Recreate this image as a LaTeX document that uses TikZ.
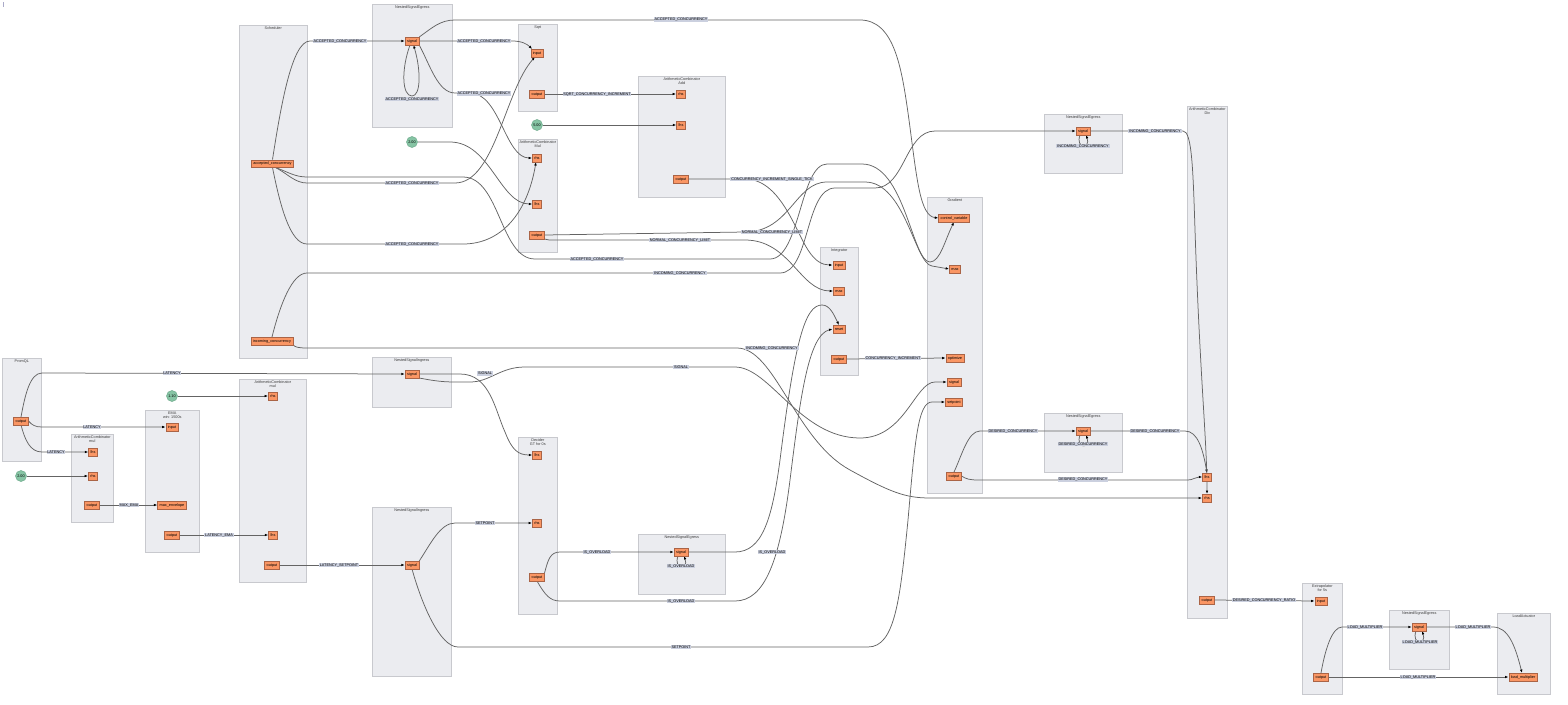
\documentclass[tikz,border=0pt]{standalone}
\usepackage{fontspec}
\setmainfont{Liberation Sans}
\usetikzlibrary{arrows.meta}
\pgfdeclarelayer{bg}
\pgfdeclarelayer{wirelayer}
\pgfsetlayers{bg,wirelayer,main}

\definecolor{clfill}{RGB}{235,236,240}
\definecolor{clborder}{RGB}{200,201,206}
\definecolor{portfill}{RGB}{250,150,100}
\definecolor{portborder}{RGB}{170,100,70}
\definecolor{constfill}{RGB}{134,196,164}
\definecolor{constborder}{RGB}{110,170,140}
\definecolor{lblfill}{RGB}{203,208,223}
\definecolor{wirecol}{RGB}{100,100,100}
\definecolor{titlecol}{RGB}{60,60,60}
\definecolor{tickcol}{RGB}{170,170,200}

\newcommand\tinyfont{\fontsize{3.8}{4.4}\selectfont}

\tikzset{
  cluster/.style={draw=clborder, fill=clfill, line width=0.6pt, anchor=north west, inner sep=0pt},
  ctitle/.style={anchor=north, font=\tinyfont, text=titlecol, align=center, inner sep=1.5pt},
  port/.style={draw=portborder, fill=portfill, line width=0.5pt, font=\tinyfont,
    inner xsep=2pt, inner ysep=0pt, minimum height=7.5pt, text height=2.8pt, text depth=0.7pt},
  const/.style={circle, draw=constborder, fill=constfill, line width=0.5pt,
    minimum size=11pt, inner sep=0pt, font=\tinyfont},
  lbl/.style={fill=lblfill, font=\tinyfont, inner xsep=0.8pt, inner ysep=0.6pt,
    text height=2.8pt, text depth=0.7pt},
  wire/.style={draw=wirecol, line width=0.75pt, -{Latex[length=3.5pt,width=2.6pt,color=black]}},
}

\begin{document}
\begin{tikzpicture}[x=1pt,y=-1pt]
\useasboundingbox (0,0) rectangle (1568,704);

\draw[tickcol, line width=0.4pt] (3,2) -- (3,7);

% ---------- component groups ----------
\begin{pgfonlayer}{bg}
\node[cluster, minimum width=68pt, minimum height=333pt, label={[ctitle]north:Scheduler}] (cSched) at (239,25) {};
\node[cluster, minimum width=80pt, minimum height=123pt, label={[ctitle]north:NestedSignalEgress}] (cNse1) at (372,4) {};
\node[cluster, minimum width=39pt, minimum height=87pt, label={[ctitle]north:Sqrt}] (cSqrt) at (518,24) {};
\node[cluster, minimum width=87pt, minimum height=121pt, label={[ctitle]north:{ArithmeticCombinator\\Add}}] (cAdd) at (638,76) {};
\node[cluster, minimum width=39pt, minimum height=113pt, label={[ctitle]north:{ArithmeticCombinator\\Mul}}] (cMul) at (518,139) {};
\node[cluster, minimum width=55pt, minimum height=296pt, label={[ctitle]north:Gradient}] (cGrad) at (927,197) {};
\node[cluster, minimum width=38pt, minimum height=128pt, label={[ctitle]north:Integrator}] (cInt) at (820,247) {};
\node[cluster, minimum width=78pt, minimum height=59pt, label={[ctitle]north:NestedSignalEgress}] (cNseInc) at (1044,114) {};
\node[cluster, minimum width=40pt, minimum height=512pt, label={[ctitle]north:{ArithmeticCombinator\\Div}}] (cDiv) at (1187,106) {};
\node[cluster, minimum width=78pt, minimum height=59pt, label={[ctitle]north:NestedSignalEgress}] (cNseDes) at (1044,413) {};
\node[cluster, minimum width=39pt, minimum height=103pt, label={[ctitle]north:PromQL}] (cProm) at (2,358) {};
\node[cluster, minimum width=42pt, minimum height=88pt, label={[ctitle]north:{ArithmeticCombinator\\mul}}] (cMulA) at (71,434) {};
\node[cluster, minimum width=54pt, minimum height=142pt, label={[ctitle]north:{EMA\\win: 1500s}}] (cEma) at (145,410) {};
\node[cluster, minimum width=67pt, minimum height=203pt, label={[ctitle]north:{ArithmeticCombinator\\mul}}] (cMulB) at (239,379) {};
\node[cluster, minimum width=79pt, minimum height=50pt, label={[ctitle]north:NestedSignalIngress}] (cNsi1) at (372,357) {};
\node[cluster, minimum width=79pt, minimum height=169pt, label={[ctitle]north:NestedSignalIngress}] (cNsi2) at (372,507) {};
\node[cluster, minimum width=39pt, minimum height=177pt, label={[ctitle]north:{Decider\\GT for 0s}}] (cDec) at (518,437) {};
\node[cluster, minimum width=87pt, minimum height=60pt, label={[ctitle]north:NestedSignalEgress}] (cNseIs) at (638,534) {};
\node[cluster, minimum width=40pt, minimum height=111pt, label={[ctitle]north:{Extrapolator\\for 5s}}] (cExt) at (1302,583) {};
\node[cluster, minimum width=60pt, minimum height=59pt, label={[ctitle]north:NestedSignalEgress}] (cNseLm) at (1389,610) {};
\node[cluster, minimum width=53pt, minimum height=81pt, label={[ctitle]north:LoadActuator}] (cLa) at (1497,613) {};
\end{pgfonlayer}

% ---------- ports and constants ----------
\node[port] (schAcc) at (272.5,163.5) {accepted\_concurrency};
\node[port] (schInc) at (272,341) {incoming\_concurrency};
\node[port] (nse1) at (412,41) {signal};
\node[port] (sqrtIn) at (537,53) {input};
\node[port] (sqrtOut) at (537,94) {output};
\node[port] (addRhs) at (681,94) {rhs};
\node[port] (addLhs) at (681,125) {lhs};
\node[port] (addOut) at (681,179) {output};
\node[const] (k500) at (537,125) {5.00};
\node[const] (k200a) at (412,142) {2.00};
\node[port] (mulRhs) at (537,158) {rhs};
\node[port] (mulLhs) at (537,204) {lhs};
\node[port] (mulOut) at (537,235) {output};
\node[port] (gCv) at (954,218) {control\_variable};
\node[port] (gMax) at (955,269) {max};
\node[port] (gOpt) at (955,358) {optimize};
\node[port] (gSig) at (954,382) {signal};
\node[port] (gSet) at (954,402) {setpoint};
\node[port] (gOut) at (954,476) {output};
\node[port] (iIn) at (839,265) {input};
\node[port] (iMax) at (839,291) {max};
\node[port] (iReset) at (839,329) {reset};
\node[port] (iOut) at (839,359) {output};
\node[port] (nseInc) at (1083,131) {signal};
\node[port] (dLhs) at (1207,477) {lhs};
\node[port] (dRhs) at (1207,498) {rhs};
\node[port] (dOut) at (1207,600) {output};
\node[port] (nseDes) at (1083,431) {signal};
\node[port] (promOut) at (21,421) {output};
\node[port] (maLhs) at (93,452) {lhs};
\node[port] (maRhs) at (93,476) {rhs};
\node[port] (maOut) at (92,505) {output};
\node[const] (k200b) at (21,476) {2.00};
\node[const] (k110) at (172,396) {1.10};
\node[port] (emaIn) at (172,427) {input};
\node[port] (emaMax) at (172,505) {max\_envelope};
\node[port] (emaOut) at (172,535) {output};
\node[port] (mbRhs) at (273,396) {rhs};
\node[port] (mbLhs) at (273,535) {lhs};
\node[port] (mbOut) at (272,565) {output};
\node[port] (nsi1) at (412,374) {signal};
\node[port] (nsi2) at (412,565) {signal};
\node[port] (decLhs) at (537,455) {lhs};
\node[port] (decRhs) at (537,523) {rhs};
\node[port] (decOut) at (537,577) {output};
\node[port] (nseIs) at (681,552) {signal};
\node[port] (extIn) at (1321,601) {input};
\node[port] (extOut) at (1321,677) {output};
\node[port] (nseLm) at (1419,627) {signal};
\node[port] (laLm) at (1523,677) {load\_multiplier};

% ---------- connectors ----------
\begin{pgfonlayer}{wirelayer}
\draw[wire] (schAcc.north) .. controls (281,105) and (292,41) .. (310,41) -- (nse1.west);
\draw[wire] (nse1.east) -- (512,41) .. controls (522,41) and (527,44) .. ([xshift=1.5pt]sqrtIn.north west);
\draw[wire] (nse1.north east) .. controls (432,28) and (440,20) .. (455,20) -- (860,20)
  .. controls (895,20) and (902,70) .. (909,120) .. controls (917,180) and (920,216) .. (gCv.west);
\draw[wire] (nse1.south east) .. controls (430,65) and (438,93) .. (455,93) -- (470,93)
  .. controls (500,93) and (505,158) .. (mulRhs.west);
\draw[wire] ([xshift=-2pt]nse1.south) .. controls (401,70) and (402,96) .. (412,96)
  .. controls (421,96) and (421,70) .. ([xshift=1.5pt]nse1.south);
\draw[wire] ([xshift=3pt]schAcc.south) .. controls (288,174) and (295,183) .. (307,183) -- (455,183)
  .. controls (495,183) and (505,90) .. ([xshift=-2pt]sqrtIn.south);
\draw[wire] ([xshift=3pt]schAcc.south) .. controls (288,172) and (295,177) .. (307,177) -- (463,177)
  .. controls (500,177) and (500,259) .. (535,259) -- (770,259)
  .. controls (800,259) and (800,164) .. (827,164) -- (862,164)
  .. controls (905,164) and (912,262) .. (930,262) .. controls (940,262) and (945,240) .. (gCv.south);
\draw[wire] (schAcc.south) .. controls (280,205) and (290,244) .. (307,244) -- (463,244)
  .. controls (500,244) and (527,215) .. ([xshift=-1pt]mulRhs.south);
\draw[wire] (k200a.east) -- (450,142) .. controls (490,142) and (500,204) .. (mulLhs.west);
\draw[wire] (sqrtOut.east) -- (addRhs.west);
\draw[wire] (k500.east) -- (addLhs.west);
\draw[wire] (addOut.east) -- (745,179) .. controls (780,179) and (795,230) .. (808,250)
  .. controls (815,261) and (822,265) .. (iIn.west);
\draw[wire] (mulOut.south east) .. controls (548,240) .. (556,240) -- (745,240)
  .. controls (790,240) and (800,291) .. (iMax.west);
\draw[wire] (mulOut.east) -- (745,232) .. controls (790,232) and (795,182) .. (827,182) -- (865,182)
  .. controls (905,182) and (915,264) .. (932,266) -- (gMax.west);
\draw[wire] (schInc.north) .. controls (280,305) and (292,273) .. (307,273) -- (780,273)
  .. controls (810,273) and (805,188) .. (835,188) -- (875,188)
  .. controls (905,188) and (905,131) .. (935,131) -- (nseInc.west);
\draw[wire] (schInc.south east) .. controls (295,347) and (298,348) .. (307,348) -- (737,348)
  .. controls (775,348) and (795,440) .. (850,470) .. controls (890,492) and (905,498) .. (930,498) -- (dRhs.west);
\draw[wire] (promOut.north) .. controls (25,395) and (30,373) .. (42,373) -- (nsi1.west);
\draw[wire] (promOut.east) .. controls (32,425) and (35,427) .. (42,427) -- (emaIn.west);
\draw[wire] (promOut.south) .. controls (25,440) and (30,452) .. (42,452) -- (maLhs.west);
\draw[wire] (k200b.east) -- (maRhs.west);
\draw[wire] (maOut.east) -- (emaMax.west);
\draw[wire] (emaOut.east) -- (mbLhs.west);
\draw[wire] (k110.east) -- (mbRhs.west);
\draw[wire] (mbOut.east) -- (nsi2.west);
\draw[wire] (nsi2.north east) .. controls (430,545) and (440,523) .. (455,523) -- (decRhs.west);
\draw[wire] (nsi2.south) .. controls (422,605) and (440,647) .. (458,647) -- (868,647)
  .. controls (895,647) and (900,600) .. (908,520) .. controls (915,440) and (918,402) .. (932,402) -- (gSet.west);
\draw[wire] (nsi1.east) -- (460,374) .. controls (490,374) and (495,410) .. (505,432)
  .. controls (512,450) and (518,455) .. (decLhs.west);
\draw[wire] (nsi1.south east) .. controls (430,380) and (440,382) .. (455,382) -- (470,382)
  .. controls (490,382) and (500,367) .. (525,367) -- (735,367)
  .. controls (770,367) and (800,438) .. (860,438) .. controls (905,438) and (915,382) .. (935,382) -- (gSig.west);
\draw[wire] (decOut.north east) .. controls (548,560) and (550,552) .. (560,552) -- (nseIs.west);
\draw[wire] (decOut.south) .. controls (545,595) and (550,601) .. (560,601) -- (735,601)
  .. controls (765,601) and (780,560) .. (790,480) .. controls (800,400) and (808,335) .. (iReset.west);
\draw[wire] (nseIs.east) -- (735,552) .. controls (762,552) and (772,520) .. (780,460)
  .. controls (795,340) and (805,305) .. (822,305) .. controls (830,305) and (834,315) .. (iReset.north);
\draw[wire] (iOut.east) -- (gOpt.west);
\draw[wire] (gOut.north) .. controls (962,455) and (968,431) .. (980,431) -- (nseDes.west);
\draw[wire] (gOut.east) .. controls (966,479) and (970,480) .. (978,480) -- (1188,480)
  .. controls (1193,480) and (1195,477) .. (dLhs.west);
\draw[wire] (nseDes.east) -- (1185,431) .. controls (1198,431) and (1203,450) .. (dLhs.north);
\draw[wire] (nseInc.east) -- (1183,131) .. controls (1192,131) and (1193,170) .. (1195,230)
  .. controls (1200,380) and (1207,440) .. (dRhs.north);
\draw[wire] (dOut.east) -- (extIn.west);
\draw[wire] (extOut.north) .. controls (1325,650) and (1332,627) .. (1342,627) -- (nseLm.west);
\draw[wire] (extOut.east) -- (laLm.west);
\draw[wire] (nseLm.east) -- (1493,627) .. controls (1508,627) and (1515,645) .. ([xshift=-1pt]laLm.north);
\draw[wire] ([xshift=-3pt]nseInc.south) .. controls (1075,149) and (1091,149) .. ([xshift=3pt]nseInc.south);
\draw[wire] ([xshift=-3pt]nseDes.south) .. controls (1075,449) and (1091,449) .. ([xshift=3pt]nseDes.south);
\draw[wire] ([xshift=-3pt]nseIs.south) .. controls (673,570) and (689,570) .. ([xshift=3pt]nseIs.south);
\draw[wire] ([xshift=-3pt]nseLm.south) .. controls (1411,645) and (1427,645) .. ([xshift=3pt]nseLm.south);
\end{pgfonlayer}

% ---------- connector labels ----------
\node[lbl] (l1) at (340,41) {ACCEPTED\_CONCURRENCY};
\node[lbl] (l2) at (484,41) {ACCEPTED\_CONCURRENCY};
\node[lbl] (l3) at (681,19.5) {ACCEPTED\_CONCURRENCY};
\node[lbl] (l4) at (484,93.5) {ACCEPTED\_CONCURRENCY};
\node[lbl] (l5) at (412,99) {ACCEPTED\_CONCURRENCY};
\node[lbl] (l6) at (412,183) {ACCEPTED\_CONCURRENCY};
\node[lbl] (l7) at (597,259) {ACCEPTED\_CONCURRENCY};
\node[lbl] (l8) at (412,244) {ACCEPTED\_CONCURRENCY};
\node[lbl] (l9) at (597,94) {SQRT\_CONCURRENCY\_INCREMENT};
\node[lbl] (l10) at (772,179) {CONCURRENCY\_INCREMENT\_SINGLE\_TICK};
\node[lbl] (l11) at (680,240) {NORMAL\_CONCURRENCY\_LIMIT};
\node[lbl] (l12) at (772,232) {NORMAL\_CONCURRENCY\_LIMIT};
\node[lbl] (l13) at (680,273) {INCOMING\_CONCURRENCY};
\node[lbl] (l14) at (772,348) {INCOMING\_CONCURRENCY};
\node[lbl] (l15) at (172,373) {LATENCY};
\node[lbl] (l16) at (92,427) {LATENCY};
\node[lbl] (l17) at (56,452) {LATENCY};
\node[lbl] (l18) at (129,505) {MAX\_EMA};
\node[lbl] (l19) at (219,535) {LATENCY\_EMA};
\node[lbl] (l20) at (339,565) {LATENCY\_SETPOINT};
\node[lbl] (l21) at (485,523) {SETPOINT};
\node[lbl] (l22) at (681,647) {SETPOINT};
\node[lbl] (l23) at (485,373.5) {SIGNAL};
\node[lbl] (l24) at (681,367) {SIGNAL};
\node[lbl] (l25) at (597,552) {IS\_OVERLOAD};
\node[lbl] (l26) at (681,601) {IS\_OVERLOAD};
\node[lbl] (l27) at (772,552) {IS\_OVERLOAD};
\node[lbl] (l28) at (681,566) {IS\_OVERLOAD};
\node[lbl] (l29) at (893,358) {CONCURRENCY\_INCREMENT};
\node[lbl] (l30) at (1013,431) {DESIRED\_CONCURRENCY};
\node[lbl] (l31) at (1083,479.5) {DESIRED\_CONCURRENCY};
\node[lbl] (l32) at (1155,431) {DESIRED\_CONCURRENCY};
\node[lbl] (l33) at (1083,444) {DESIRED\_CONCURRENCY};
\node[lbl] (l34) at (1155,131) {INCOMING\_CONCURRENCY};
\node[lbl] (l35) at (1083,146) {INCOMING\_CONCURRENCY};
\node[lbl] (l36) at (1264,600) {DESIRED\_CONCURRENCY\_RATIO};
\node[lbl] (l37) at (1365,627) {LOAD\_MULTIPLIER};
\node[lbl] (l38) at (1418,677) {LOAD\_MULTIPLIER};
\node[lbl] (l39) at (1473,627) {LOAD\_MULTIPLIER};
\node[lbl] (l40) at (1420,642) {LOAD\_MULTIPLIER};
\end{tikzpicture}
\end{document}
